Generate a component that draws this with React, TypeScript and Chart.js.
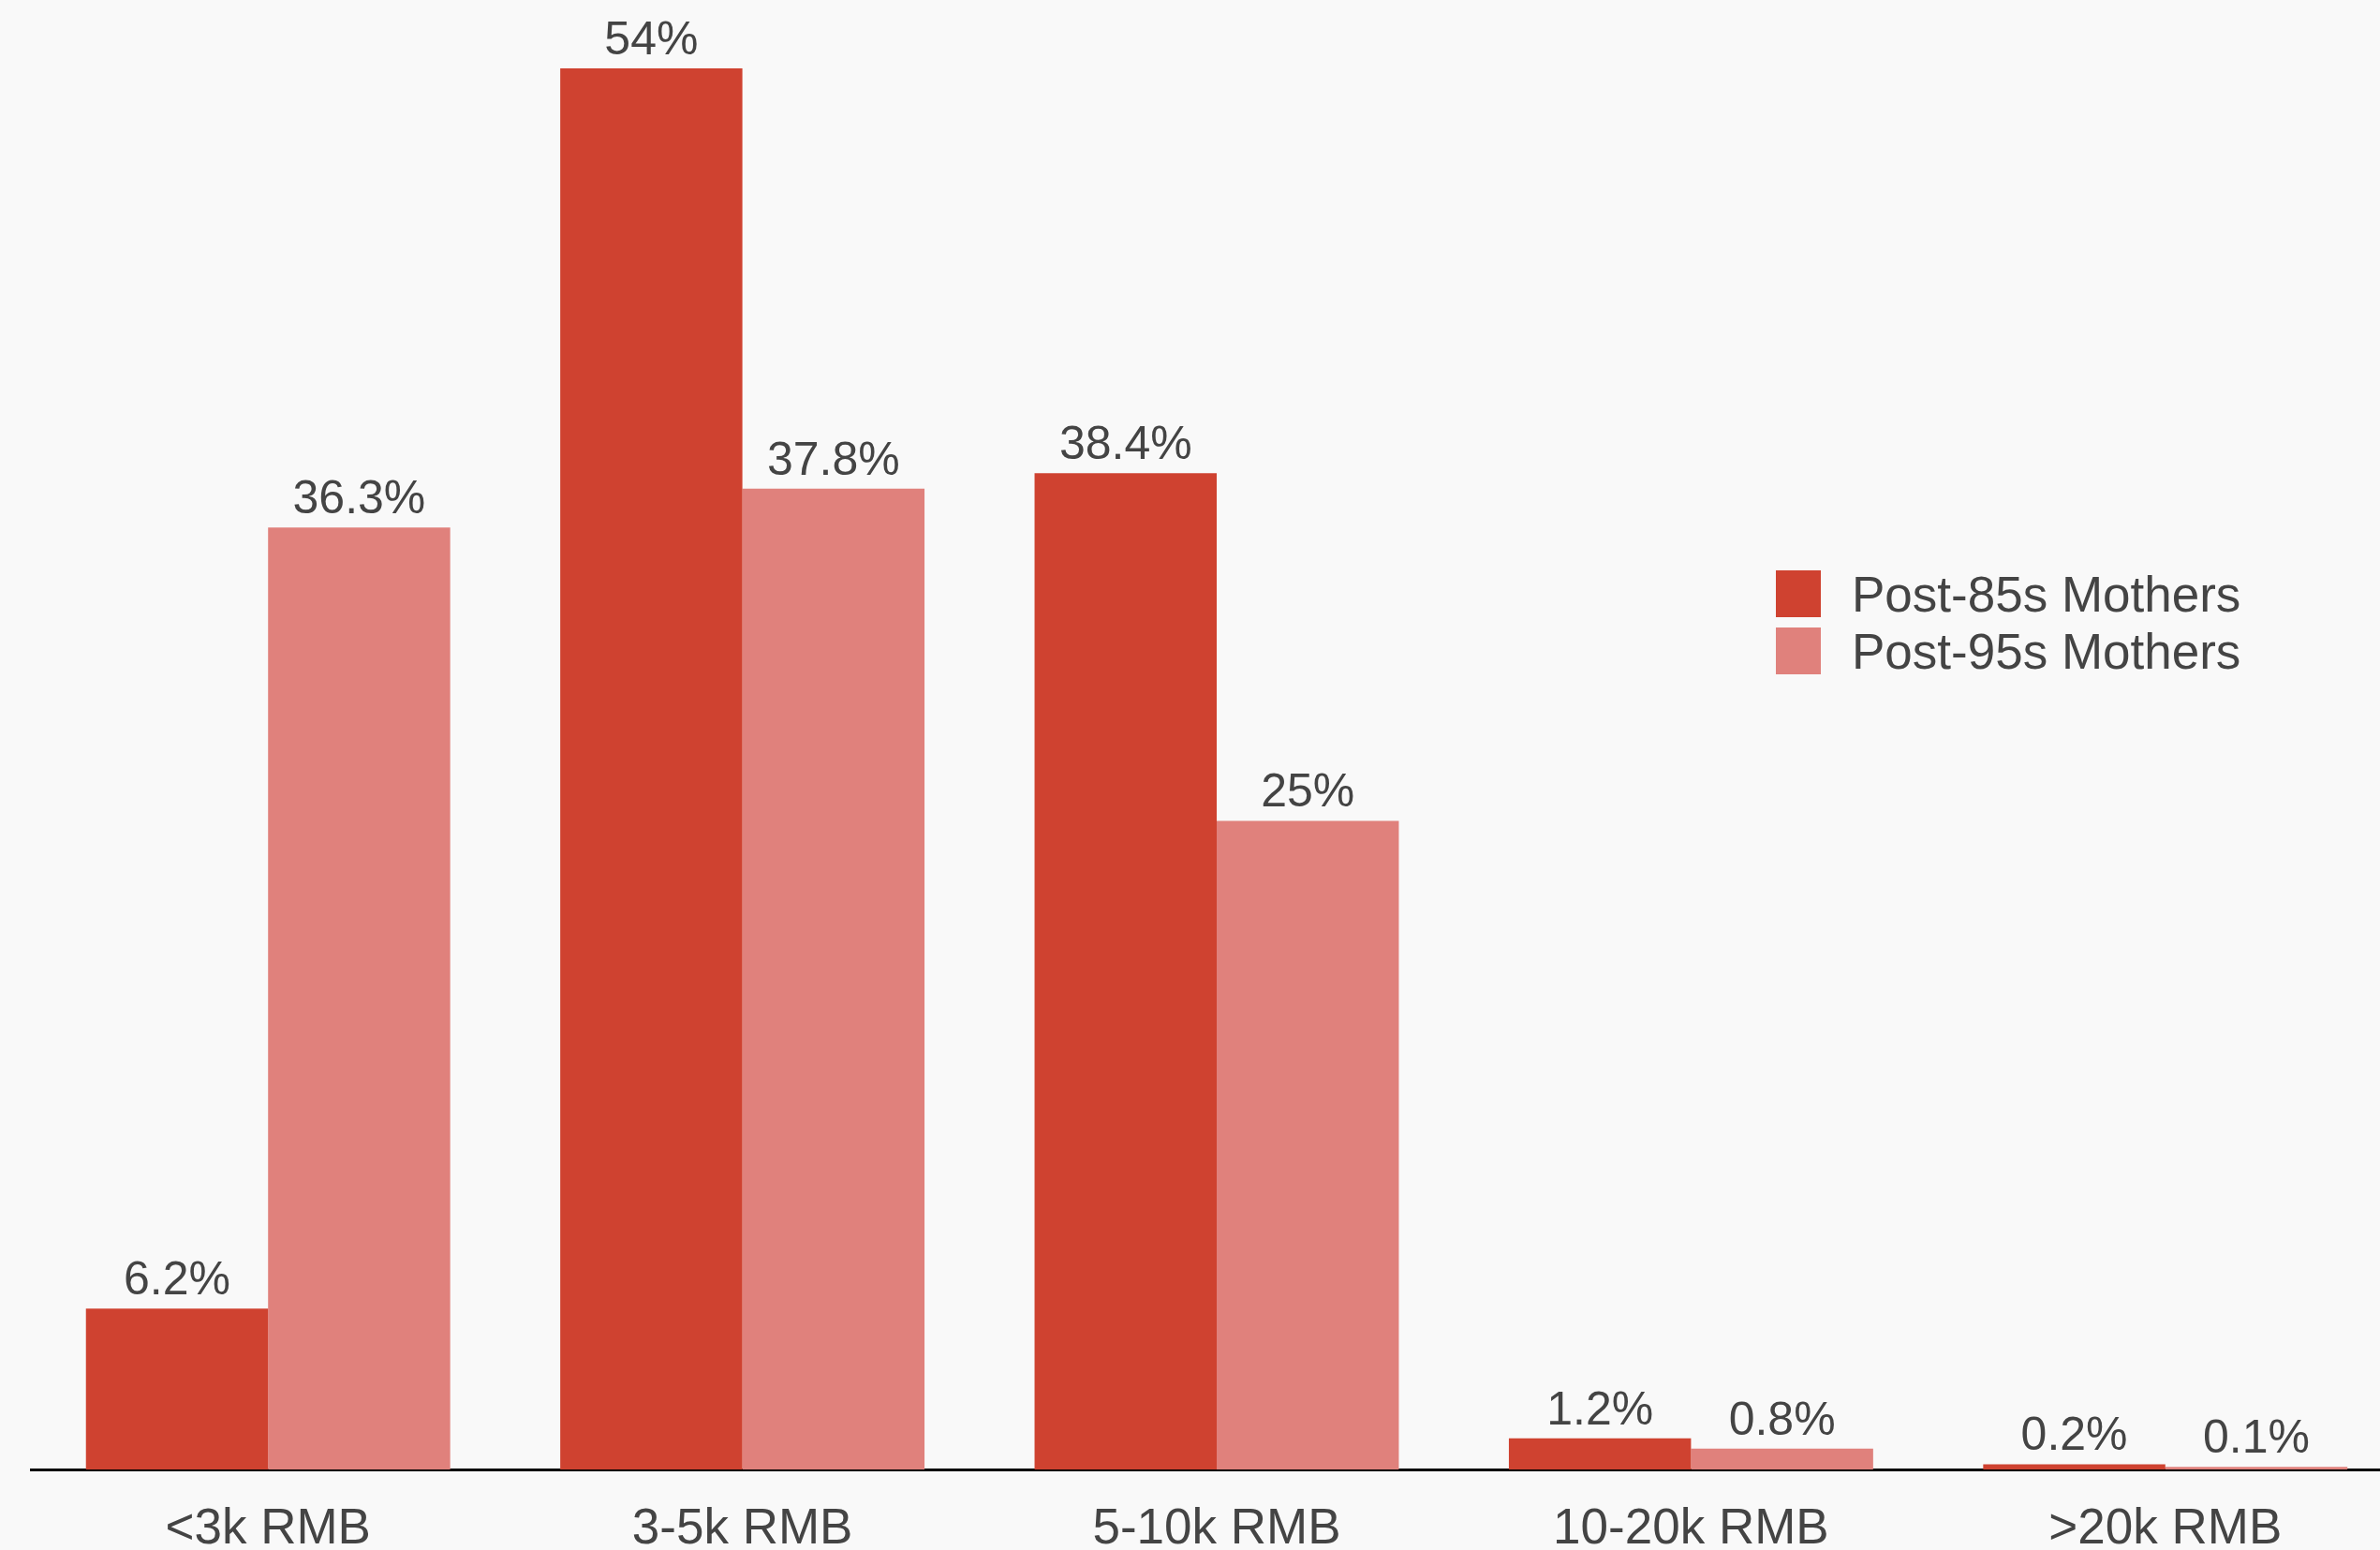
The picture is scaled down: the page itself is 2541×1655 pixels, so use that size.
import React, { useEffect, useRef } from "react";
import { Chart, registerables } from "chart.js";

Chart.register(...registerables);

const categories = ["<3k RMB", "3-5k RMB", "5-10k RMB", "10-20k RMB", ">20k RMB"];
const post85 = [6.2, 54, 38.4, 1.2, 0.2];
const post95 = [36.3, 37.8, 25, 0.8, 0.1];
const seriesNames = ["Post-85s Mothers", "Post-95s Mothers"];
const seriesColors = ["#CF4230", "#E0817C"];

const BG = "#F9F9F9";
const TEXT = "#444444";
const FONT = "'Liberation Sans', Arial, Helvetica, sans-serif";

const bgPlugin = {
  id: "bg",
  beforeDraw(chart: any) {
    const { ctx, width, height } = chart;
    ctx.save();
    ctx.fillStyle = BG;
    ctx.fillRect(0, 0, width, height);
    ctx.restore();
  },
};

const labelPlugin = {
  id: "valueLabels",
  afterDatasetsDraw(chart: any) {
    const { ctx } = chart;
    ctx.save();
    ctx.fillStyle = TEXT;
    ctx.font = `50px ${FONT}`;
    ctx.textAlign = "center";
    ctx.textBaseline = "alphabetic";
    chart.data.datasets.forEach((ds: any, di: number) => {
      const meta = chart.getDatasetMeta(di);
      meta.data.forEach((bar: any, i: number) => {
        ctx.fillText(`${ds.data[i]}%`, bar.x, bar.y - 15);
      });
    });
    ctx.restore();
  },
};

const legendPlugin = {
  id: "customLegend",
  afterDraw(chart: any) {
    const { ctx } = chart;
    ctx.save();
    ctx.font = `53px ${FONT}`;
    ctx.textAlign = "left";
    ctx.textBaseline = "alphabetic";
    chart.data.datasets.forEach((ds: any, i: number) => {
      const top = 609 + i * 61;
      ctx.fillStyle = ds.backgroundColor;
      ctx.fillRect(1896, top, 48, 50);
      ctx.fillStyle = TEXT;
      ctx.fillText(ds.label, 1977, top + 44);
    });
    ctx.restore();
  },
};

export default function App() {
  const ref = useRef<HTMLCanvasElement>(null);
  useEffect(() => {
    if (!ref.current) return;
    const chart = new Chart(ref.current, {
      type: "bar",
      data: {
        labels: categories,
        datasets: [
          { label: seriesNames[0], data: post85, backgroundColor: seriesColors[0], borderWidth: 0 },
          { label: seriesNames[1], data: post95, backgroundColor: seriesColors[1], borderWidth: 0 },
        ],
      },
      options: {
        responsive: false,
        animation: false,
        devicePixelRatio: 1,
        layout: { padding: { top: 73, left: 33, right: 1, bottom: 0 } },
        datasets: { bar: { categoryPercentage: 0.768, barPercentage: 1 } },
        plugins: { legend: { display: false }, tooltip: { enabled: false } },
        scales: {
          x: {
            grid: { display: false, drawTicks: false },
            border: { display: true, color: "#000000", width: 3 },
            ticks: { color: TEXT, font: { family: FONT, size: 53 }, padding: 33, maxRotation: 0 },
            afterFit(scale: any) {
              scale.height = 86;
            },
          },
          y: { display: false, min: 0, max: 54 },
        },
      },
      plugins: [bgPlugin, labelPlugin, legendPlugin],
    } as any);
    return () => chart.destroy();
  }, []);
  return (
    <div style={{ position: "fixed", left: 0, top: 0, width: 2566, height: 1655, background: BG, overflow: "hidden" }}>
      <canvas ref={ref} width={2566} height={1655} style={{ display: "block" }} />
    </div>
  );
}
